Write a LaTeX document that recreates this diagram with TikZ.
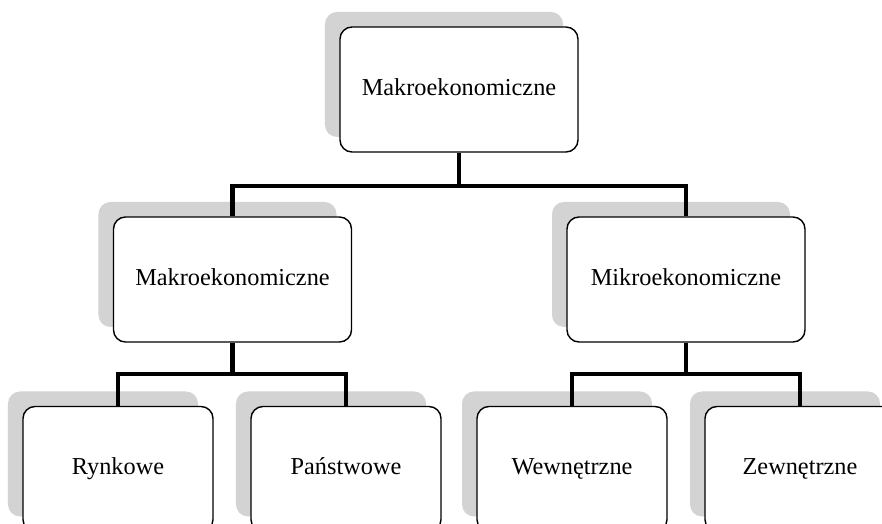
\documentclass[tikz,border=0pt]{standalone}
\usepackage{fontspec}
\setmainfont{Liberation Serif}
\usetikzlibrary{shadows}
\definecolor{shadowgray}{RGB}{211,211,212}
\begin{document}
\begin{tikzpicture}[x=0.5bp, y=-0.5bp,
	box/.style={draw, fill=white, rounded corners=6bp, line width=0.7bp,
		minimum height=62.5bp, inner sep=0pt, text height=8.5bp, text depth=2.5bp,
		font=\fontsize{12.2}{14}\selectfont,
		drop shadow={shadow xshift=-7.5bp, shadow yshift=7.5bp, fill=shadowgray, opacity=1}},
	bigbox/.style={box, minimum width=119bp},
	smallbox/.style={box, minimum width=95bp},
	link/.style={line width=2.4bp, line join=miter}]
	\useasboundingbox (0,0) rectangle (882,524);
	\clip (0,0) rectangle (882,524);
	% boxes
	\node[bigbox] (makro) at (459,89.5) {Makroekonomiczne};
	\node[bigbox] (makro2) at (232.5,279.5) {Makroekonomiczne};
	\node[bigbox] (mikro) at (686,279.5) {Mikroekonomiczne};
	\node[smallbox] (rynk) at (118,469) {Rynkowe};
	\node[smallbox] (panst) at (346,469) {Państwowe};
	\node[smallbox] (wewn) at (572,469) {Wewnętrzne};
	\node[smallbox] (zewn) at (800,469) {Zewnętrzne};
	% links
	\coordinate (j1) at (459,186);
	\coordinate (j2) at (232.5,374);
	\coordinate (j3) at (686,374);
	\draw[link] (makro.south) -- (j1);
	\draw[link] (makro2.north) |- (j1) -| (mikro.north);
	\draw[link] (makro2.south) -- (j2);
	\draw[link] (rynk.north) |- (j2) -| (panst.north);
	\draw[link] (mikro.south) -- (j3);
	\draw[link] (wewn.north) |- (j3) -| (zewn.north);
\end{tikzpicture}
\end{document}
